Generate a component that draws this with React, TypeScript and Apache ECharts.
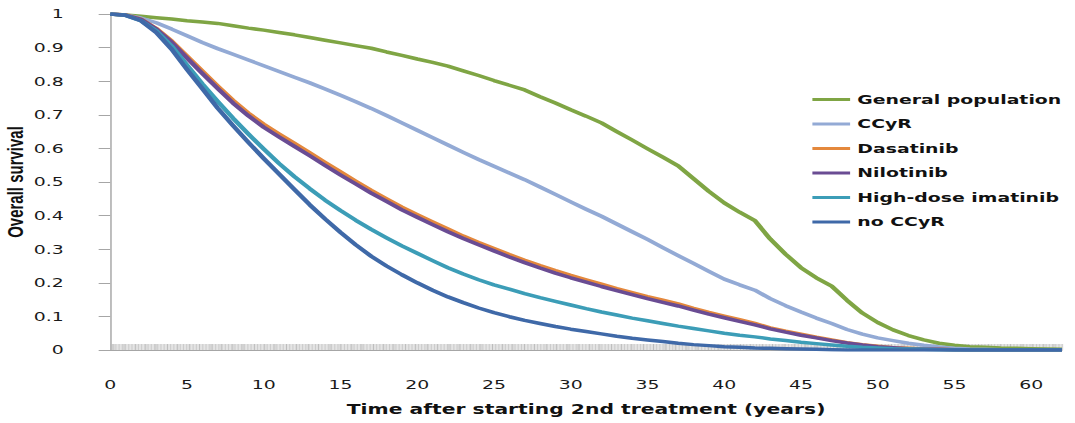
import React, { useEffect, useRef } from "react";
import * as echarts from "echarts";

const years = [
  0, 1, 2, 3, 4, 5, 6, 7, 8, 9, 10, 11, 12, 13, 14, 15, 16, 17, 18, 19, 20,
  21, 22, 23, 24, 25, 26, 27, 28, 29, 30, 31, 32, 33, 34, 35, 36, 37, 38, 39, 40,
  41, 42, 43, 44, 45, 46, 47, 48, 49, 50, 51, 52, 53, 54, 55, 56, 57, 58, 59, 60,
  61, 62,
];

const seriesNames = [
  "General population",
  "CCyR",
  "Dasatinib",
  "Nilotinib",
  "High-dose imatinib",
  "no CCyR",
];

const generalPopulation = [
  1, 0.997, 0.993, 0.989, 0.985, 0.98, 0.976, 0.972, 0.965, 0.958, 0.952,
  0.945, 0.938, 0.93, 0.922, 0.914, 0.906, 0.898, 0.887, 0.877, 0.866,
  0.856, 0.845, 0.831, 0.817, 0.802, 0.788, 0.774, 0.754, 0.735, 0.715,
  0.696, 0.676, 0.65, 0.625, 0.599, 0.574, 0.548, 0.51, 0.472, 0.438,
  0.41, 0.385, 0.33, 0.285, 0.245, 0.215, 0.19, 0.148, 0.11, 0.082,
  0.06, 0.043, 0.03, 0.02, 0.014, 0.01, 0.008, 0.006, 0.005, 0.004,
  0.003, 0.002,
];

const ccyr = [
  1, 0.997, 0.988, 0.974, 0.955, 0.935, 0.915, 0.897, 0.88, 0.863, 0.846,
  0.829, 0.812, 0.795, 0.777, 0.758, 0.739, 0.719, 0.698, 0.676, 0.654,
  0.632, 0.61, 0.588, 0.567, 0.547, 0.527, 0.507, 0.485, 0.463, 0.441,
  0.419, 0.398, 0.375, 0.352, 0.329, 0.305, 0.281, 0.258, 0.234, 0.211,
  0.194, 0.178, 0.153, 0.132, 0.113, 0.095, 0.079, 0.061, 0.047, 0.036,
  0.028, 0.02, 0.014, 0.009, 0.005, 0.003, 0.002, 0.001, 0, 0,
  0, 0,
];

const dasatinib = [
  1, 0.997, 0.985, 0.957, 0.92, 0.875, 0.83, 0.786, 0.743, 0.705, 0.672,
  0.643, 0.615, 0.587, 0.558, 0.53, 0.502, 0.475, 0.45, 0.425, 0.403,
  0.381, 0.36, 0.339, 0.32, 0.302, 0.284, 0.267, 0.251, 0.236, 0.222,
  0.209, 0.196, 0.183, 0.171, 0.159, 0.148, 0.137, 0.124, 0.112, 0.101,
  0.09, 0.079, 0.066, 0.056, 0.047, 0.038, 0.03, 0.022, 0.016, 0.011,
  0.007, 0.005, 0.003, 0.002, 0.001, 0, 0, 0, 0, 0,
  0, 0,
];

const nilotinib = [
  1, 0.997, 0.984, 0.955, 0.916, 0.869, 0.823, 0.778, 0.735, 0.697, 0.663,
  0.634, 0.606, 0.578, 0.549, 0.521, 0.494, 0.467, 0.442, 0.417, 0.395,
  0.373, 0.352, 0.332, 0.313, 0.295, 0.277, 0.26, 0.244, 0.229, 0.215,
  0.202, 0.189, 0.177, 0.165, 0.153, 0.142, 0.131, 0.119, 0.107, 0.096,
  0.085, 0.075, 0.063, 0.053, 0.044, 0.036, 0.028, 0.021, 0.015, 0.01,
  0.007, 0.004, 0.003, 0.002, 0.001, 0, 0, 0, 0, 0,
  0, 0,
];

const highDoseImatinib = [
  1, 0.996, 0.98, 0.95, 0.905, 0.848, 0.792, 0.74, 0.69, 0.643, 0.598,
  0.555, 0.516, 0.48, 0.446, 0.415, 0.386, 0.359, 0.334, 0.31, 0.288,
  0.266, 0.245, 0.226, 0.209, 0.194, 0.181, 0.168, 0.156, 0.145, 0.134,
  0.123, 0.113, 0.104, 0.095, 0.087, 0.079, 0.071, 0.064, 0.057, 0.05,
  0.044, 0.039, 0.033, 0.028, 0.023, 0.019, 0.015, 0.011, 0.008, 0.006,
  0.004, 0.003, 0.002, 0.001, 0, 0, 0, 0, 0, 0,
  0, 0,
];

const noCcyr = [
  1, 0.996, 0.98, 0.945, 0.895, 0.835, 0.778, 0.72, 0.668, 0.618, 0.57,
  0.524, 0.478, 0.432, 0.39, 0.35, 0.313, 0.279, 0.25, 0.224, 0.2,
  0.178, 0.158, 0.141, 0.125, 0.111, 0.099, 0.088, 0.079, 0.07, 0.062,
  0.055, 0.048, 0.041, 0.035, 0.03, 0.025, 0.02, 0.016, 0.013, 0.01,
  0.008, 0.006, 0.005, 0.004, 0.003, 0.002, 0.001, 0, 0, 0,
  0, 0, 0, 0, 0, 0, 0, 0, 0, 0,
  0, 0,
];

const seriesValues = [
  generalPopulation,
  ccyr,
  dasatinib,
  nilotinib,
  highDoseImatinib,
  noCcyr,
];

const colors = ["#7fa544", "#93aad5", "#e4883c", "#6a4c93", "#3c9db7", "#3f69a8"];

const xTitle = "Time after starting 2nd treatment (years)";
const yTitle = "Overall survival";

// chart is drawn narrower and stretched horizontally like the reference picture
const SX = 1.4507;
const CW = 741;

const monthTicks = Array.from({ length: 62 * 12 + 1 }, (_, i) => String(i));

export default function App() {
  const ref = useRef<HTMLDivElement>(null);
  useEffect(() => {
    const chart = echarts.init(ref.current!, null, { renderer: "svg" });
    const series = seriesNames.map((name, i) => ({
      name,
      type: "line",
      xAxisIndex: 0,
      data: years.map((y, k) => [y, seriesValues[i][k]]),
      showSymbol: false,
      symbol: "none",
      smooth: false,
      lineStyle: { width: 3.5, color: colors[i], join: "round" },
      itemStyle: { color: colors[i] },
      emphasis: { disabled: true },
    }));
    chart.setOption({
      animation: false,
      backgroundColor: "#ffffff",
      color: colors,
      grid: {
        left: 76,
        right: 9,
        top: 14,
        bottom: 73,
        containLabel: false,
        outerBoundsMode: "none",
      },
      legend: {
        data: seriesNames,
        orient: "vertical",
        left: 560,
        top: 93,
        padding: 0,
        icon: "rect",
        itemWidth: 26,
        itemHeight: 3,
        itemGap: 11.5,
        textStyle: {
          fontFamily: "DejaVu Sans",
          fontWeight: "bold",
          fontSize: 13,
          color: "#111",
        },
      },
      xAxis: [
        {
          type: "value",
          min: 0,
          max: 62,
          interval: 5,
          axisLine: { show: true, lineStyle: { color: "#a6a6a6", width: 1 } },
          axisTick: { show: false },
          splitLine: { show: false },
          axisLabel: {
            showMaxLabel: false,
            fontFamily: "DejaVu Sans",
            fontSize: 13,
            color: "#1a1a1a",
            margin: 28,
          },
          name: xTitle,
          nameLocation: "middle",
          nameGap: 52,
          nameTextStyle: {
            fontFamily: "DejaVu Sans",
            fontWeight: "bold",
            fontSize: 14,
            color: "#111",
          },
        },
        {
          type: "category",
          data: monthTicks,
          boundaryGap: false,
          position: "bottom",
          axisLine: { show: false },
          axisLabel: { show: false },
          splitLine: { show: false },
          axisTick: {
            show: true,
            inside: true,
            interval: 0,
            length: 6,
            lineStyle: { color: "#b8b8b8", width: 0.6 },
          },
        },
      ],
      yAxis: {
        type: "value",
        min: 0,
        max: 1,
        interval: 0.1,
        axisLine: { show: true, lineStyle: { color: "#a6a6a6", width: 1 } },
        axisTick: { show: true, length: 8, lineStyle: { color: "#a6a6a6" } },
        splitLine: { show: false },
        axisLabel: {
          fontFamily: "DejaVu Sans",
          fontSize: 13,
          color: "#1a1a1a",
          margin: 32,
          formatter: (v: number) => (v === 0 ? "0" : v === 1 ? "1" : v.toFixed(1)),
        },
        name: yTitle,
        nameLocation: "middle",
        nameRotate: 90,
        nameGap: 58,
        nameMoveOverlap: false,
        nameTextStyle: {
          fontFamily: "'Liberation Sans Narrow', 'Liberation Sans', Arial, sans-serif",
          fontWeight: "bold",
          fontSize: 15,
          color: "#111",
        },
      },
      series,
    });
    return () => chart.dispose();
  }, []);
  return (
    <div
      style={{
        position: "fixed",
        left: 0,
        top: 0,
        width: 1075,
        height: 423,
        background: "#ffffff",
        overflow: "hidden",
      }}
    >
      <div
        ref={ref}
        style={{
          width: CW,
          height: 423,
          transform: `scaleX(${SX})`,
          transformOrigin: "0 0",
        }}
      />
    </div>
  );
}
